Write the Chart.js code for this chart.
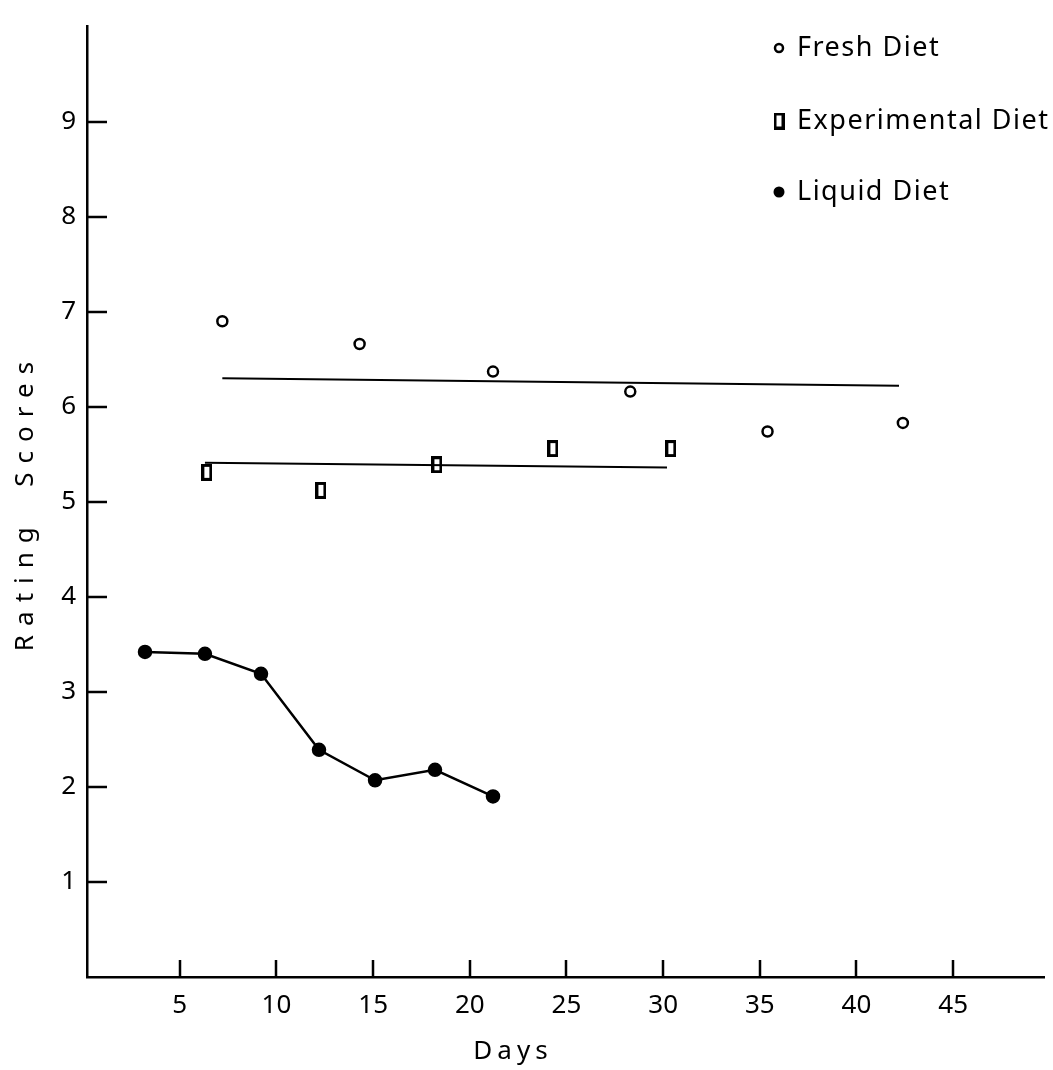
<!DOCTYPE html>
<html lang="en">
<head>
<meta charset="UTF-8">
<title>Rating Scores by Days</title>
<script src="https://cdn.jsdelivr.net/npm/chart.js"></script>
<style>
  body { margin: 0; background: #fff; }
  #chart { display: block; }
</style>
</head>
<body>
<canvas id="chart" width="1053" height="1070"></canvas>
<script>
// values (days, rating score)
const freshDays = [7.2, 14.3, 21.2, 28.3, 35.4, 42.4];
const freshScores = [6.9, 6.66, 6.37, 6.16, 5.74, 5.83];
const freshFitDays = [7.2, 42.2];
const freshFitScores = [6.3, 6.22];

const expDays = [6.4, 12.3, 18.3, 24.3, 30.4];
const expScores = [5.31, 5.12, 5.39, 5.56, 5.56];
const expFitDays = [6.3, 30.2];
const expFitScores = [5.41, 5.36];

const liquidDays = [3.2, 6.3, 9.2, 12.2, 15.1, 18.2, 21.2];
const liquidScores = [3.42, 3.4, 3.19, 2.39, 2.07, 2.18, 1.9];

const xTickValues = [5, 10, 15, 20, 25, 30, 35, 40, 45];
const yTickValues = [1, 2, 3, 4, 5, 6, 7, 8, 9];

const legendLabels = ['Fresh Diet', 'Experimental Diet', 'Liquid Diet'];

function toPoints(xs, ys) {
    return xs.map((x, i) => ({ x: x, y: ys[i] }));
}

// tall open rectangle used for the experimental diet
function rectMarker() {
    const c = document.createElement('canvas');
    c.width = 11;
    c.height = 17;
    const g = c.getContext('2d');
    g.strokeStyle = '#000';
    g.lineWidth = 3;
    g.strokeRect(1.5, 1.5, 8, 14);
    return c;
}
const expMarker = rectMarker();

const fontFamily = '"Noto Sans", sans-serif';
Chart.defaults.font.family = fontFamily;
Chart.defaults.font.size = 26;
Chart.defaults.color = '#000';

// tick marks point into the plot, plus axis titles and legend
const decorations = {
    id: 'decorations',
    afterDraw(chart) {
        const ctx = chart.ctx;
        const xs = chart.scales.x;
        const ys = chart.scales.y;
        const area = chart.chartArea;
        ctx.save();
        ctx.strokeStyle = '#000';
        ctx.lineWidth = 2.5;
        ctx.beginPath();
        xTickValues.forEach(v => {
            const px = Math.round(xs.getPixelForValue(v));
            ctx.moveTo(px, area.bottom);
            ctx.lineTo(px, area.bottom - 17);
        });
        yTickValues.forEach(v => {
            const py = Math.round(ys.getPixelForValue(v));
            ctx.moveTo(area.left, py);
            ctx.lineTo(area.left + 20, py);
        });
        ctx.stroke();

        ctx.fillStyle = '#000';
        ctx.font = '26px ' + fontFamily;
        ctx.textAlign = 'center';
        ctx.textBaseline = 'middle';
        ctx.letterSpacing = '5px';
        ctx.fillText('Days', 513, 1052);
        ctx.save();
        ctx.translate(26, 502);
        ctx.rotate(-Math.PI / 2);
        ctx.letterSpacing = '9px';
        ctx.fillText('Rating  Scores', 0, 0);
        ctx.restore();

        // legend
        ctx.font = '27px ' + fontFamily;
        ctx.letterSpacing = '1.5px';
        ctx.textAlign = 'left';
        const rows = [48, 121, 192];
        ctx.lineWidth = 2.5;
        ctx.beginPath();
        ctx.arc(779, rows[0], 4, 0, Math.PI * 2);
        ctx.stroke();
        ctx.drawImage(expMarker, 779 - expMarker.width / 2, rows[1] - expMarker.height / 2);
        ctx.beginPath();
        ctx.arc(779, rows[2], 5.5, 0, Math.PI * 2);
        ctx.fill();
        legendLabels.forEach((t, i) => ctx.fillText(t, 797, rows[i]));
        ctx.restore();
    }
};

new Chart(document.getElementById('chart'), {
    type: 'scatter',
    data: {
        datasets: [
            {
                label: 'Fresh Diet',
                data: toPoints(freshDays, freshScores),
                pointStyle: 'circle',
                pointRadius: 5,
                borderWidth: 2.5,
                borderColor: '#000',
                backgroundColor: '#fff'
            },
            {
                label: 'Fresh Diet fit',
                data: toPoints(freshFitDays, freshFitScores),
                showLine: true,
                pointRadius: 0,
                borderWidth: 2,
                borderColor: '#000'
            },
            {
                label: 'Experimental Diet',
                data: toPoints(expDays, expScores),
                pointStyle: expMarker,
                pointRadius: 8,
                borderColor: '#000',
                backgroundColor: '#fff'
            },
            {
                label: 'Experimental Diet fit',
                data: toPoints(expFitDays, expFitScores),
                showLine: true,
                pointRadius: 0,
                borderWidth: 2,
                borderColor: '#000'
            },
            {
                label: 'Liquid Diet',
                data: toPoints(liquidDays, liquidScores),
                showLine: true,
                pointStyle: 'circle',
                pointRadius: 6,
                borderWidth: 2.5,
                borderColor: '#000',
                backgroundColor: '#000'
            }
        ]
    },
    options: {
        responsive: false,
        devicePixelRatio: 1,
        animation: false,
        layout: { padding: { top: 12, right: 9, left: 0, bottom: 0 } },
        plugins: {
            legend: { display: false },
            tooltip: { enabled: false }
        },
        scales: {
            x: {
                type: 'linear',
                min: 0.2,
                max: 49.7,
                afterBuildTicks: s => { s.ticks = xTickValues.map(v => ({ value: v })); },
                afterFit: s => { s.height = 93; },
                grid: { display: false, drawTicks: false },
                border: { display: true, color: '#000', width: 2.5 },
                ticks: { padding: 13, maxRotation: 0, autoSkip: false }
            },
            y: {
                type: 'linear',
                min: 0,
                max: 10,
                afterBuildTicks: s => { s.ticks = yTickValues.map(v => ({ value: v })); },
                afterFit: s => { s.width = 87; },
                grid: { display: false, drawTicks: false },
                border: { display: true, color: '#000', width: 2.5 },
                ticks: { padding: 11, autoSkip: false }
            }
        }
    },
    plugins: [decorations]
});
</script>
</body>
</html>
